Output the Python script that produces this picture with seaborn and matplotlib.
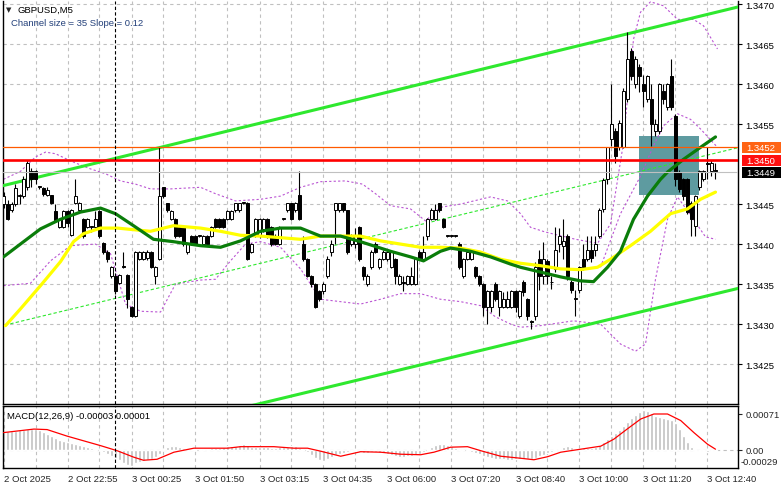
import numpy as np
import pandas as pd
import matplotlib
matplotlib.use('Agg')
import matplotlib.pyplot as plt
from matplotlib.patches import Rectangle
import seaborn as sns

# GBPUSD M5 candles, one per bar (bar index = position on the time axis)
opens = [1.34450, 1.34450, 1.34442, 1.34450, 1.34460, 1.34460, 1.34471, 1.34492, 1.34492, 1.34471,
         1.34470, 1.34462, 1.34461, 1.34441, 1.34421, 1.34421, 1.34441, 1.34411, 1.34451, 1.34442,
         1.34431, 1.34421, 1.34421, 1.34421, 1.34441, 1.34401, 1.34390, 1.34360, 1.34360, 1.34351,
         1.34372, 1.34361, 1.34321, 1.34310, 1.34381, 1.34381, 1.34382, 1.34390, 1.34360, 1.34381,
         1.34471, 1.34451, 1.34431, 1.34431, 1.34421, 1.34421, 1.34390, 1.34410, 1.34410, 1.34410,
         1.34400, 1.34410, 1.34410, 1.34431, 1.34431, 1.34431, 1.34431, 1.34431, 1.34442, 1.34442,
         1.34451, 1.34451, 1.34390, 1.34410, 1.34410, 1.34419, 1.34431, 1.34421, 1.34410, 1.34400,
         1.34431, 1.34442, 1.34451, 1.34442, 1.34461, 1.34400, 1.34381, 1.34360, 1.34350, 1.34341,
         1.34341, 1.34360, 1.34390, 1.34442, 1.34442, 1.34451, 1.34442, 1.34400, 1.34400, 1.34421,
         1.34371, 1.34350, 1.34371, 1.34400, 1.34371, 1.34381, 1.34381, 1.34371, 1.34381, 1.34350,
         1.34352, 1.34350, 1.34350, 1.34350, 1.34390, 1.34381, 1.34410, 1.34431, 1.34431, 1.34451,
         1.34431, 1.34410, 1.34410, 1.34410, 1.34400, 1.34360, 1.34381, 1.34381, 1.34371, 1.34360,
         1.34350, 1.34321, 1.34321, 1.34350, 1.34321, 1.34321, 1.34321, 1.34321, 1.34341, 1.34310,
         1.34352, 1.34331, 1.34304, 1.34310, 1.34381, 1.34360, 1.34379, 1.34352, 1.34369, 1.34400,
         1.34398, 1.34410, 1.34352, 1.34331, 1.34342, 1.34381, 1.34381, 1.34392, 1.34392, 1.34410,
         1.34444, 1.34481, 1.34531, 1.34542, 1.34521, 1.34521, 1.34581, 1.34642, 1.34600, 1.34621,
         1.34600, 1.34581, 1.34581, 1.34542, 1.34542, 1.34592, 1.34571, 1.34610, 1.34560, 1.34490,
         1.34481, 1.34481, 1.34452, 1.34422, 1.34471, 1.34481, 1.34502, 1.34492, 1.34492]
highs = [1.34465, 1.34455, 1.34453, 1.34475, 1.34463, 1.34485, 1.34505, 1.34495, 1.34493, 1.34473,
         1.34471, 1.34472, 1.34462, 1.34450, 1.34433, 1.34443, 1.34443, 1.34444, 1.34481, 1.34453,
         1.34433, 1.34432, 1.34422, 1.34441, 1.34443, 1.34403, 1.34392, 1.34373, 1.34362, 1.34362,
         1.34390, 1.34363, 1.34323, 1.34391, 1.34391, 1.34391, 1.34392, 1.34391, 1.34372, 1.34521,
         1.34472, 1.34452, 1.34442, 1.34432, 1.34422, 1.34422, 1.34401, 1.34411, 1.34411, 1.34411,
         1.34411, 1.34411, 1.34422, 1.34432, 1.34432, 1.34432, 1.34442, 1.34442, 1.34452, 1.34452,
         1.34453, 1.34453, 1.34401, 1.34433, 1.34433, 1.34433, 1.34433, 1.34423, 1.34412, 1.34423,
         1.34432, 1.34452, 1.34452, 1.34453, 1.34492, 1.34410, 1.34382, 1.34361, 1.34351, 1.34342,
         1.34352, 1.34385, 1.34405, 1.34452, 1.34452, 1.34452, 1.34443, 1.34412, 1.34420, 1.34423,
         1.34372, 1.34362, 1.34392, 1.34402, 1.34383, 1.34392, 1.34392, 1.34392, 1.34382, 1.34362,
         1.34360, 1.34361, 1.34371, 1.34383, 1.34392, 1.34410, 1.34433, 1.34445, 1.34450, 1.34452,
         1.34432, 1.34411, 1.34411, 1.34411, 1.34402, 1.34383, 1.34392, 1.34392, 1.34372, 1.34361,
         1.34351, 1.34343, 1.34343, 1.34352, 1.34343, 1.34340, 1.34341, 1.34342, 1.34342, 1.34343,
         1.34355, 1.34333, 1.34305, 1.34377, 1.34392, 1.34402, 1.34381, 1.34360, 1.34421, 1.34420,
         1.34431, 1.34412, 1.34355, 1.34342, 1.34373, 1.34400, 1.34410, 1.34410, 1.34410, 1.34445,
         1.34483, 1.34522, 1.34600, 1.34545, 1.34555, 1.34595, 1.34665, 1.34645, 1.34635, 1.34625,
         1.34612, 1.34612, 1.34600, 1.34556, 1.34602, 1.34600, 1.34602, 1.34631, 1.34563, 1.34493,
         1.34483, 1.34483, 1.34454, 1.34462, 1.34493, 1.34493, 1.34521, 1.34505, 1.34502]
lows = [1.34445, 1.34430, 1.34440, 1.34448, 1.34450, 1.34458, 1.34468, 1.34471, 1.34475, 1.34469,
        1.34460, 1.34460, 1.34450, 1.34428, 1.34420, 1.34420, 1.34421, 1.34410, 1.34450, 1.34440,
        1.34408, 1.34420, 1.34415, 1.34420, 1.34408, 1.34388, 1.34378, 1.34358, 1.34338, 1.34350,
        1.34370, 1.34320, 1.34309, 1.34309, 1.34380, 1.34380, 1.34380, 1.34370, 1.34350, 1.34380,
        1.34458, 1.34440, 1.34430, 1.34408, 1.34409, 1.34398, 1.34388, 1.34399, 1.34399, 1.34409,
        1.34399, 1.34399, 1.34409, 1.34420, 1.34420, 1.34420, 1.34430, 1.34430, 1.34440, 1.34440,
        1.34450, 1.34380, 1.34389, 1.34409, 1.34408, 1.34415, 1.34408, 1.34398, 1.34399, 1.34399,
        1.34430, 1.34440, 1.34430, 1.34440, 1.34430, 1.34379, 1.34359, 1.34346, 1.34320, 1.34329,
        1.34338, 1.34358, 1.34385, 1.34400, 1.34440, 1.34440, 1.34388, 1.34398, 1.34395, 1.34379,
        1.34355, 1.34348, 1.34369, 1.34389, 1.34369, 1.34380, 1.34379, 1.34370, 1.34350, 1.34349,
        1.34341, 1.34349, 1.34349, 1.34349, 1.34380, 1.34380, 1.34405, 1.34430, 1.34430, 1.34440,
        1.34420, 1.34409, 1.34409, 1.34409, 1.34369, 1.34358, 1.34380, 1.34380, 1.34358, 1.34348,
        1.34310, 1.34300, 1.34315, 1.34329, 1.34310, 1.34320, 1.34320, 1.34320, 1.34315, 1.34308,
        1.34335, 1.34305, 1.34294, 1.34305, 1.34342, 1.34350, 1.34350, 1.34344, 1.34365, 1.34390,
        1.34381, 1.34355, 1.34339, 1.34310, 1.34339, 1.34368, 1.34379, 1.34378, 1.34385, 1.34408,
        1.34440, 1.34475, 1.34523, 1.34502, 1.34518, 1.34520, 1.34578, 1.34605, 1.34595, 1.34590,
        1.34571, 1.34578, 1.34523, 1.34535, 1.34538, 1.34575, 1.34568, 1.34568, 1.34473, 1.34465,
        1.34455, 1.34438, 1.34410, 1.34410, 1.34468, 1.34479, 1.34481, 1.34485, 1.34481]
closes = [1.34460, 1.34431, 1.34450, 1.34470, 1.34462, 1.34481, 1.34502, 1.34481, 1.34481, 1.34471,
          1.34463, 1.34468, 1.34451, 1.34430, 1.34431, 1.34441, 1.34426, 1.34442, 1.34460, 1.34451,
          1.34410, 1.34431, 1.34421, 1.34431, 1.34410, 1.34390, 1.34381, 1.34371, 1.34341, 1.34361,
          1.34371, 1.34331, 1.34310, 1.34390, 1.34390, 1.34390, 1.34390, 1.34371, 1.34371, 1.34460,
          1.34460, 1.34442, 1.34441, 1.34410, 1.34410, 1.34400, 1.34400, 1.34400, 1.34400, 1.34410,
          1.34410, 1.34400, 1.34421, 1.34421, 1.34421, 1.34421, 1.34441, 1.34441, 1.34451, 1.34451,
          1.34451, 1.34381, 1.34400, 1.34431, 1.34431, 1.34431, 1.34410, 1.34400, 1.34400, 1.34421,
          1.34431, 1.34451, 1.34431, 1.34451, 1.34431, 1.34381, 1.34360, 1.34350, 1.34321, 1.34331,
          1.34350, 1.34381, 1.34400, 1.34451, 1.34451, 1.34442, 1.34390, 1.34410, 1.34410, 1.34381,
          1.34360, 1.34360, 1.34390, 1.34390, 1.34381, 1.34390, 1.34390, 1.34390, 1.34360, 1.34360,
          1.34351, 1.34360, 1.34360, 1.34381, 1.34381, 1.34390, 1.34431, 1.34442, 1.34442, 1.34442,
          1.34421, 1.34410, 1.34410, 1.34410, 1.34371, 1.34381, 1.34390, 1.34390, 1.34360, 1.34350,
          1.34321, 1.34341, 1.34341, 1.34331, 1.34341, 1.34331, 1.34331, 1.34341, 1.34321, 1.34341,
          1.34340, 1.34310, 1.34302, 1.34371, 1.34360, 1.34381, 1.34360, 1.34353, 1.34392, 1.34410,
          1.34404, 1.34360, 1.34342, 1.34332, 1.34371, 1.34371, 1.34392, 1.34383, 1.34400, 1.34442,
          1.34480, 1.34521, 1.34550, 1.34510, 1.34552, 1.34592, 1.34631, 1.34610, 1.34631, 1.34610,
          1.34592, 1.34610, 1.34550, 1.34550, 1.34600, 1.34581, 1.34600, 1.34571, 1.34481, 1.34469,
          1.34460, 1.34440, 1.34431, 1.34460, 1.34491, 1.34491, 1.34500, 1.34502, 1.34491]

# MACD(12,26,9) histogram per bar and signal line
macd_hist = [0.00036, 0.00037, 0.00038, 0.00038, 0.00039, 0.00040, 0.00041, 0.00041, 0.00041, 0.00039,
             0.00035, 0.00031, 0.00028, 0.00024, 0.00020, 0.00017, 0.00015, 0.00013, 0.00011, 0.00010,
             0.00008, 0.00006, 0.00004, 0.00002, 0.00000, -0.00005, -0.00009, -0.00012, -0.00016, -0.00021,
             -0.00026, -0.00030, -0.00033, -0.00027, -0.00024, -0.00022, -0.00021, -0.00019, -0.00014, -0.00008,
             0.00002, 0.00005, 0.00007, 0.00008, 0.00006, 0.00004, 0.00003, 0.00001, 0.00000, -0.00001,
             0.00001, 0.00002, 0.00003, 0.00003, 0.00004, 0.00005, 0.00007, 0.00008, 0.00008, 0.00010,
             0.00012, 0.00009, 0.00005, 0.00005, 0.00005, 0.00005, 0.00005, 0.00004, 0.00004, 0.00005,
             0.00005, 0.00006, 0.00007, 0.00007, 0.00004, 0.00000, -0.00005, -0.00010, -0.00016, -0.00020,
             -0.00022, -0.00019, -0.00014, -0.00010, -0.00008, -0.00006, -0.00004, -0.00003, -0.00003, -0.00005,
             -0.00006, -0.00006, -0.00005, -0.00005, -0.00006, -0.00007, -0.00009, -0.00011, -0.00013, -0.00014,
             -0.00014, -0.00013, -0.00012, -0.00010, -0.00008, -0.00005, 0.00000, 0.00005, 0.00009, 0.00012,
             0.00012, 0.00010, 0.00007, 0.00004, 0.00002, 0.00000, -0.00003, -0.00005, -0.00007, -0.00009,
             -0.00012, -0.00015, -0.00017, -0.00018, -0.00019, -0.00019, -0.00020, -0.00020, -0.00019, -0.00019,
             -0.00019, -0.00018, -0.00018, -0.00016, -0.00013, -0.00010, -0.00006, -0.00004, -0.00002, 0.00002,
             0.00005, 0.00007, 0.00005, 0.00002, 0.00001, 0.00003, 0.00003, 0.00004, 0.00005, 0.00009,
             0.00015, 0.00022, 0.00028, 0.00034, 0.00040, 0.00048, 0.00056, 0.00063, 0.00069, 0.00074,
             0.00078, 0.00077, 0.00072, 0.00068, 0.00066, 0.00064, 0.00062, 0.00059, 0.00054, 0.00042,
             0.00028, 0.00016, 0.00006, -0.00002, -0.00003, -0.00003, -0.00004, -0.00003, -0.00003]
sig_bar = [0, 7.6, 10.9, 15.9, 24.3, 28.4, 32.6, 35, 38.4, 42.6, 47.6, 56, 59.3, 64.3, 67.6, 72.6, 76,
           79.3, 84.3, 89.3, 94.3, 99.3, 104.3, 107.6, 111.8, 116, 119.3, 124.3, 129.3, 132.6, 136,
           139.3, 144.3, 149.3, 152.6, 155.9, 159.3, 162.6, 166, 169.3, 172.6, 176, 178]
sig_val = [0.00034, 0.00041, 0.00040, 0.00027, 0.00008, -0.00002, -0.00015, -0.00021, -0.00019, -0.00005,
           0.00003, 0.00003, 0.00006, 0.00006, 0.00006, 0.00003, 0.00003, -0.00003, -0.00013, -0.00004,
           -0.00005, -0.00009, -0.00010, -0.00005, 0.00005, 0.00006, -0.00002, -0.00013, -0.00017, -0.00020,
           -0.00014, -0.00005, 0.00001, 0.00007, 0.00021, 0.00041, 0.00061, 0.00071, 0.00071, 0.00058,
           0.00034, 0.00011, 0.00001]

# moving averages
green_bar = [0, 9.25, 14.25, 19.25, 24.25, 28, 32.5, 37.5, 42.5, 49.25, 54.25, 59.25, 64.25, 69.25, 74.25,
             79.25, 84.25, 89.25, 96.75, 101.75, 105, 109.25, 111.75, 116.75, 121.75, 126.75, 129.25,
             134.25, 139.25, 144.25, 147.5, 151, 154.25, 157.5, 161, 164.25, 166, 170, 174.25, 178]
green_val = [1.34384, 1.34419, 1.34431, 1.34440, 1.34445, 1.34438, 1.34423, 1.34406, 1.34403, 1.34398,
             1.34396, 1.34404, 1.34416, 1.34420, 1.34420, 1.34410, 1.34410, 1.34403, 1.34391, 1.34384,
             1.34379, 1.34391, 1.34395, 1.34391, 1.34384, 1.34375, 1.34371, 1.34365, 1.34359, 1.34354,
             1.34353, 1.34371, 1.34391, 1.34431, 1.34460, 1.34481, 1.34490, 1.34506, 1.34521, 1.34534]
yellow_bar = [0.5, 4.25, 9.25, 14.25, 17.5, 20, 24.25, 28.5, 32.5, 36.75, 42.5, 49.25, 54.25, 59.25, 64.25,
              69.25, 74.25, 79.25, 84.25, 89.25, 94.25, 99.25, 104.25, 109.25, 114.25, 119.25, 124.25,
              129.25, 134.25, 139.25, 144.25, 148.5, 151.75, 156.75, 161.75, 166.75, 171, 174.25, 178]
yellow_val = [1.34298, 1.34319, 1.34348, 1.34378, 1.34403, 1.34413, 1.34420, 1.34420, 1.34418, 1.34416,
              1.34423, 1.34420, 1.34416, 1.34411, 1.34410, 1.34408, 1.34406, 1.34410, 1.34410, 1.34410,
              1.34404, 1.34400, 1.34396, 1.34396, 1.34395, 1.34390, 1.34381, 1.34376, 1.34373, 1.34369,
              1.34368, 1.34371, 1.34381, 1.34398, 1.34416, 1.34438, 1.34444, 1.34456, 1.34465]

# envelope bands (dashed purple)
upper_bar = [0, 4.25, 8, 10.5, 13, 16.75, 21.75, 25.5, 29.25, 33, 36.75, 41.75, 49.25, 53, 58, 64.25,
             69.25, 74.25, 79.25, 85.5, 89.75, 93, 96.75, 101.75, 105.5, 109.25, 114.25, 121.75, 126,
             129.25, 131.75, 135.5, 143, 148.5, 151.75, 154.75, 157.5, 159.25, 161.75, 165, 168.5,
             172.5, 175, 178.5]
upper_val = [1.34481, 1.34491, 1.34509, 1.34515, 1.34513, 1.34504, 1.34494, 1.34488, 1.34479, 1.34475,
             1.34469, 1.34469, 1.34471, 1.34463, 1.34454, 1.34456, 1.34460, 1.34471, 1.34478, 1.34479,
             1.34475, 1.34463, 1.34448, 1.34444, 1.34429, 1.34446, 1.34450, 1.34459, 1.34454, 1.34438,
             1.34421, 1.34415, 1.34406, 1.34401, 1.34425, 1.34519, 1.34656, 1.34690, 1.34703, 1.34698,
             1.34681, 1.34681, 1.34673, 1.34644]
mid_bar = [149.25, 154.25, 159.25, 162.5, 165, 168.5, 171.75, 174.25, 178.5]
mid_val = [1.34371, 1.34438, 1.34485, 1.34523, 1.34548, 1.34563, 1.34556, 1.34544, 1.34521]
lower_bar = [0, 6.75, 11.75, 16.75, 23, 26.75, 30.5, 34.25, 39.25, 43, 49.25, 53, 56.75, 60.5, 64.25,
             69.25, 74.25, 79.25, 84.25, 89.25, 94.25, 99.25, 104.25, 109.25, 114.25, 119.25, 123,
             126.75, 129.25, 134.25, 142.5, 149.25, 154.25, 158, 160.5, 163, 166, 168.5, 172.5, 175.5, 178]
lower_val = [1.34348, 1.34351, 1.34379, 1.34398, 1.34400, 1.34388, 1.34325, 1.34316, 1.34315, 1.34350,
             1.34355, 1.34356, 1.34379, 1.34400, 1.34403, 1.34396, 1.34369, 1.34331, 1.34328, 1.34325,
             1.34331, 1.34338, 1.34338, 1.34331, 1.34328, 1.34323, 1.34309, 1.34300, 1.34296, 1.34298,
             1.34304, 1.34300, 1.34275, 1.34266, 1.34275, 1.34356, 1.34431, 1.34459, 1.34431, 1.34409,
             1.34406]

# regression channel (end points)
chan_bar = [-1, 184]
chan_upper = [1.34472, 1.34697]
chan_mid = [1.34297, 1.34521]
chan_lower = [1.34122, 1.34345]

# levels and highlighted zone
level_price = [1.34521, 1.34505, 1.34490]
level_text = ['1.3452', '1.3450', '1.3449']
box_bars = [158.9, 173.9]
box_prices = [1.34461, 1.34535]
marker_bar = 28

price_ticks = [1.3425, 1.3430, 1.3435, 1.3440, 1.3445, 1.3455, 1.3460, 1.3465, 1.3470]
macd_ticks = [0.00071, 0.0]
macd_tick_text = ['0.00071', '0.00']
macd_min_text = '-0.00029'
label_bars = [0, 16, 32, 48, 64, 80, 96, 112, 128, 144, 160, 176]
time_labels = ['2 Oct 2025', '2 Oct 22:55', '3 Oct 00:25', '3 Oct 01:50', '3 Oct 03:15',
               '3 Oct 04:35', '3 Oct 06:00', '3 Oct 07:20', '3 Oct 08:40', '3 Oct 10:00',
               '3 Oct 11:20', '3 Oct 12:40']

sns.set_style('white')
plt.rcParams['font.family'] = ['Liberation Sans', 'DejaVu Sans']
plt.rcParams['font.size'] = 6.8

W, H = 781, 489
fig = plt.figure(figsize=(W / 100, H / 100), dpi=100)
ax = fig.add_axes([3 / W, 84 / H, 735 / W, 403 / H])
ax2 = fig.add_axes([3 / W, 20 / H, 735 / W, 62 / H])

df = pd.DataFrame({'open': opens, 'high': highs, 'low': lows, 'close': closes})
df['bar'] = np.arange(len(df))
up = df['close'] >= df['open']
body_lo = df[['open', 'close']].min(axis=1)
body_h = (df['close'] - df['open']).abs().clip(lower=0.000012)

grid_kw = dict(color='#c0c0c0', linestyle=(0, (3, 3)), linewidth=0.8)
purple = '#ba55d3'
lime = '#2ee82e'

# highlighted zone
ax.add_patch(Rectangle((box_bars[0], box_prices[0]), box_bars[1] - box_bars[0],
                       box_prices[1] - box_prices[0], facecolor='#5e9ba0',
                       edgecolor='none', zorder=1))

# bands
for bx, by in [(upper_bar, upper_val), (mid_bar, mid_val), (lower_bar, lower_val)]:
    sns.lineplot(x=bx, y=by, ax=ax, color=purple, linewidth=0.8,
                 linestyle=(0, (2, 2)), zorder=2)

# channel
sns.lineplot(x=chan_bar, y=chan_upper, ax=ax, color=lime, linewidth=2.2, zorder=3)
sns.lineplot(x=chan_bar, y=chan_lower, ax=ax, color=lime, linewidth=2.2, zorder=3)
sns.lineplot(x=chan_bar, y=chan_mid, ax=ax, color=lime, linewidth=0.8,
             linestyle=(0, (3, 2)), zorder=3)

# candles
ax.vlines(df['bar'], df['low'], df['high'], color='black', linewidth=0.8, zorder=4)
ax.bar(df['bar'], body_h, bottom=body_lo, width=0.7,
       color=np.where(up, 'white', 'black'), edgecolor='black', linewidth=0.7, zorder=5)

# moving averages
sns.lineplot(x=yellow_bar, y=yellow_val, ax=ax, color='#ffff00', linewidth=2.3, zorder=6)
sns.lineplot(x=green_bar, y=green_val, ax=ax, color='#0a7d0a', linewidth=2.3, zorder=6)

# levels
ax.axhline(level_price[0], color='#ff5a00', linewidth=0.9, zorder=7)
ax.axhline(level_price[1], color='#ff0000', linewidth=1.9, zorder=7)
ax.axhline(level_price[2], color='#c0c0c0', linewidth=0.8, zorder=7)
ax.axvline(marker_bar, color='black', linewidth=0.8, linestyle=(0, (3, 2)), zorder=8)

tr = ax.get_yaxis_transform()
box_h = 0.000138
for p, t, c in zip(level_price, level_text, ['#ff6414', '#ff1010', '#000000']):
    ax.add_patch(Rectangle((1 + 4 / 735, p - box_h / 2), 40 / 735, box_h, transform=tr,
                           facecolor=c, edgecolor='none', clip_on=False, zorder=10))
    ax.text(1 + 8.5 / 735, p, t, transform=tr, color='white', va='center', ha='left',
            fontsize=6.8, zorder=11, clip_on=False)

ax.set_xlim(-0.125, 183.625)
ax.set_ylim(1.3420, 1.34704)
ax.set_xticks(np.arange(8, 184, 8))
ax.set_yticks(price_ticks)
ax.set_yticklabels([f'{v:.4f}' for v in price_ticks])
ax.yaxis.tick_right()
ax.tick_params(axis='x', length=0, labelbottom=False)
ax.tick_params(axis='y', length=3, width=0.8, pad=2.6, labelsize=6.8, colors='black')
ax.grid(True, **grid_kw)
ax.set_axisbelow(True)
ax.set_xlabel('')
ax.set_ylabel('')
for s in ['left', 'right', 'bottom']:
    ax.spines[s].set_color('black')
    ax.spines[s].set_linewidth(1)
ax.spines['top'].set_visible(False)

# MACD panel
ax2.bar(df['bar'], macd_hist, width=0.7, color='#c0c0c0', zorder=2)
sns.lineplot(x=sig_bar, y=sig_val, ax=ax2, color='#ff0000', linewidth=0.9, zorder=3)
ax2.axhline(0, zorder=1, **grid_kw)
ax2.axvline(marker_bar, color='black', linewidth=0.8, linestyle=(0, (3, 2)), zorder=4)
ax2.set_xlim(-0.125, 183.625)
ax2.set_ylim(-0.000364, 0.000869)
ax2.set_xticks(label_bars)
ax2.set_xticklabels(time_labels, ha='left')
ax2.set_xticks(np.arange(8, 184, 8), minor=True)
ax2.tick_params(axis='x', which='major', length=3, width=0.8, pad=1.5, labelsize=6.8)
ax2.tick_params(axis='x', which='minor', length=0)
ax2.xaxis.grid(True, which='both', **grid_kw)
ax2.yaxis.grid(False)
ax2.set_axisbelow(True)
ax2.yaxis.tick_right()
ax2.set_yticks(macd_ticks)
ax2.set_yticklabels(macd_tick_text)
ax2.tick_params(axis='y', length=3, width=0.8, pad=2.6, labelsize=6.8)
ax2.text(1 + 3 / 735, 0.10, macd_min_text, transform=ax2.transAxes, va='center', ha='left',
         fontsize=6.8, clip_on=False)
ax2.set_xlabel('')
ax2.set_ylabel('')
for s in ax2.spines.values():
    s.set_color('black')
    s.set_linewidth(1)

# header texts
fig.text(6 / W, 1 - 10.5 / H, '\u25bc', fontsize=5, va='center', ha='left',
         family=['DejaVu Sans'])
fig.text(17 / W, 1 - 10.5 / H, 'GBPUSD,M5', va='center', ha='left', color='black')
fig.text(11 / W, 1 - 23.5 / H, 'Channel size = 35 Slope = 0.12', va='center', ha='left',
         color='#23407a')
fig.text(7 / W, 1 - 417 / H, 'MACD(12,26,9) -0.00003 0.00001', va='center', ha='left',
         color='black')

fig.savefig('out.png', dpi=100, facecolor='white')
